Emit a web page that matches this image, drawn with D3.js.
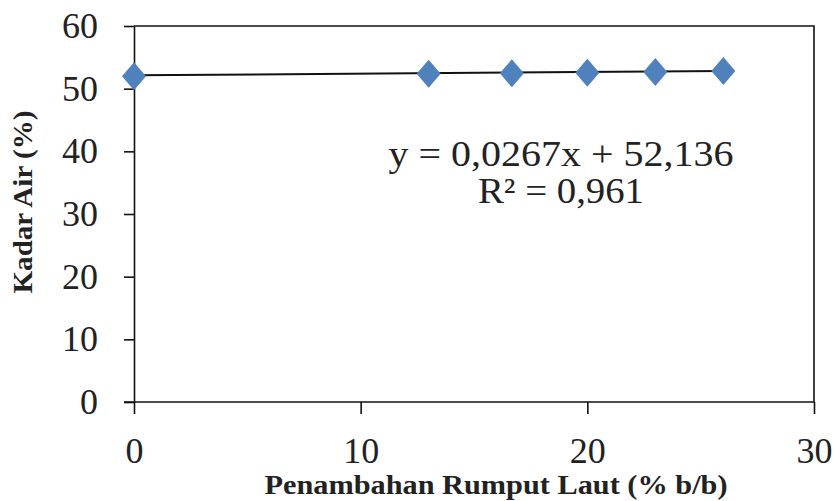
<!DOCTYPE html>
<html>
<head>
<meta charset="utf-8">
<script src="https://cdn.jsdelivr.net/npm/d3@7"></script>
<style>
	body { margin: 0; background: #fff; }
	text { font-family: 'Liberation Serif', 'Times New Roman', serif; fill: #222; }
</style>
</head>
<body>
<div class="svg-container"></div>
<script>
const w = 834;
const h = 501;

// data
const penambahan = [0, 13, 16.67, 20, 23, 26];
const kadarAir = [52.0, 52.4, 52.45, 52.55, 52.65, 52.8];
const xTicks = [0, 10, 20, 30];
const yTicks = [0, 10, 20, 30, 40, 50, 60];
const trendSlope = 0.0267;
const trendIntercept = 52.136;
const trendLabels = ['y = 0,0267x + 52,136', 'R² = 0,961'];

const svg = d3
	.select('.svg-container')
	.append('svg')
	.attr('width', w)
	.attr('height', h)
	.style('display', 'block');

const xScale = d3.scaleLinear().domain([0, 30]).range([134, 814]);
const yScale = d3.scaleLinear().domain([0, 60]).range([402, 26]);

// frame: top and right border
svg
	.append('path')
	.attr('d', `M${xScale(0)},${yScale(60)}H${xScale(30)}V${yScale(0)}`)
	.attr('fill', 'none')
	.attr('stroke', '#111')
	.attr('stroke-width', 1.6);

const xAxis = d3
	.axisBottom(xScale)
	.tickValues(xTicks)
	.tickSize(12)
	.tickSizeOuter(0)
	.tickPadding(23);

const gx = svg
	.append('g')
	.attr('transform', `translate(0, ${yScale(0)})`)
	.call(xAxis);

const yAxis = d3
	.axisLeft(yScale)
	.tickValues(yTicks)
	.tickSize(10)
	.tickSizeOuter(0)
	.tickPadding(26);

const gy = svg
	.append('g')
	.attr('transform', `translate(${xScale(0)}, 0)`)
	.call(yAxis);

[gx, gy].forEach(g => {
	g.selectAll('path, line').attr('stroke', '#111').attr('stroke-width', 1.6);
	g.selectAll('text')
		.style('font-family', "'Liberation Serif', serif")
		.style('font-size', '36px')
		.attr('fill', '#222');
});
gx.select('.domain').attr('d', `M${xScale(0) - 10},0H${xScale(30)}`);

// trendline
svg
	.append('line')
	.attr('x1', xScale(0))
	.attr('y1', yScale(trendIntercept))
	.attr('x2', xScale(d3.max(penambahan)))
	.attr('y2', yScale(trendIntercept + trendSlope * d3.max(penambahan)))
	.attr('stroke', '#111')
	.attr('stroke-width', 2);

// diamond markers
svg
	.selectAll('.dot')
	.data(penambahan)
	.enter()
	.append('path')
	.attr('class', 'dot')
	.attr('d', 'M0,-14L12,0L0,14L-12,0Z')
	.attr('transform', (d, i) => `translate(${xScale(d)}, ${yScale(kadarAir[i])})`)
	.attr('fill', '#4f81bd');

// equation (text in the picture is a bit stretched, hence textLength)
svg
	.selectAll('.eq')
	.data(trendLabels)
	.enter()
	.append('text')
	.attr('class', 'eq')
	.attr('x', 561)
	.attr('y', (d, i) => 166 + i * 37)
	.attr('textLength', (d, i) => (i ? 166 : 345))
	.attr('lengthAdjust', 'spacingAndGlyphs')
	.style('text-anchor', 'middle')
	.style('font-size', '36px')
	.text(d => d);

svg
	.append('text')
	.attr('x', 496)
	.attr('y', 494)
	.attr('textLength', 463)
	.attr('lengthAdjust', 'spacingAndGlyphs')
	.style('text-anchor', 'middle')
	.style('font-size', '28px')
	.style('font-weight', 'bold')
	.text('Penambahan Rumput Laut (% b/b)');

svg
	.append('text')
	.attr('transform', 'translate(32, 202) rotate(-90)')
	.attr('textLength', 183)
	.attr('lengthAdjust', 'spacingAndGlyphs')
	.style('text-anchor', 'middle')
	.style('font-size', '28px')
	.style('font-weight', 'bold')
	.text('Kadar Air (%)');
</script>
</body>
</html>
